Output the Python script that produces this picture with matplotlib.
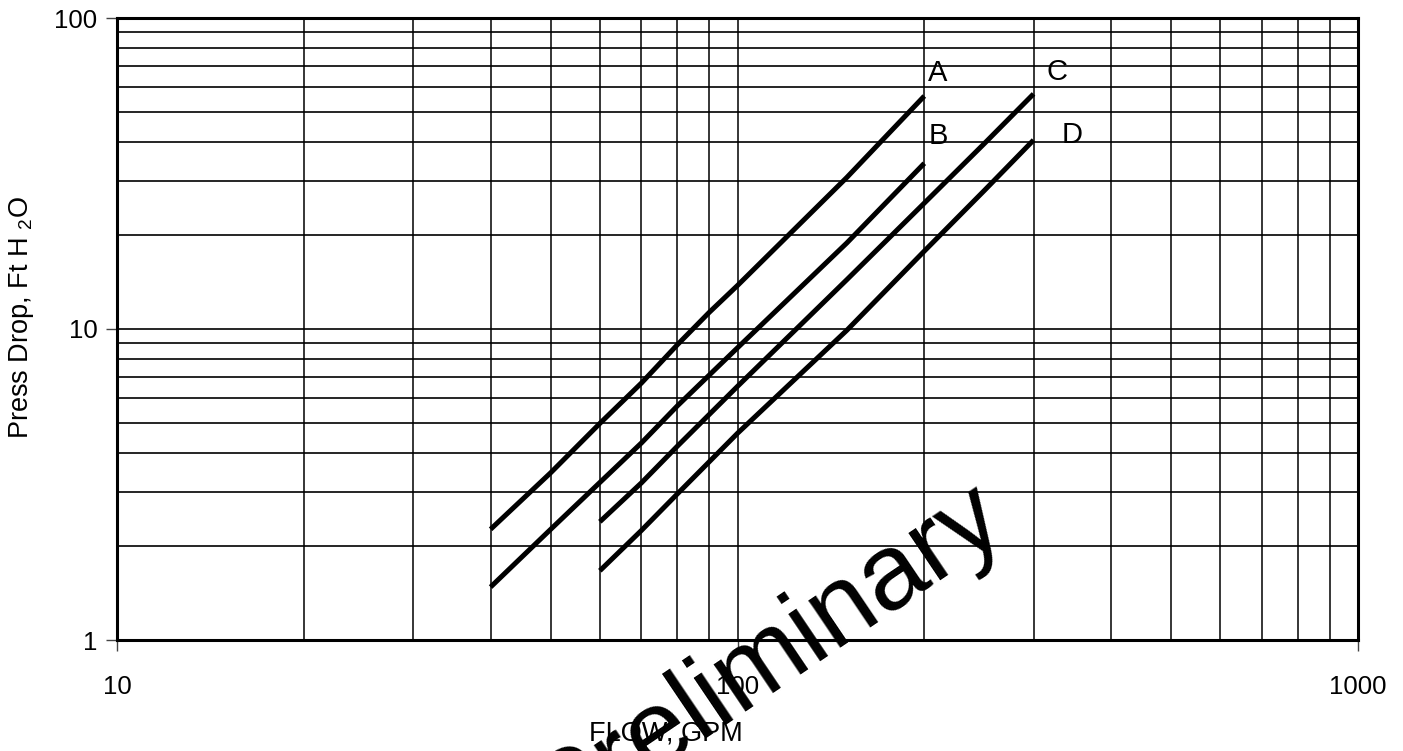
import matplotlib
matplotlib.use("Agg")
import matplotlib.pyplot as plt
from matplotlib.ticker import FixedLocator, FixedFormatter

plt.rcParams['font.family'] = ['Liberation Sans', 'DejaVu Sans']
plt.rcParams['mathtext.fontset'] = 'custom'
plt.rcParams['mathtext.rm'] = 'Liberation Sans'
plt.rcParams['mathtext.it'] = 'Liberation Sans'

# ---- data ----
flow_A = [40, 50, 60, 70, 80, 90, 100, 150, 200]
drop_A = [2.27, 3.45, 4.97, 6.7, 8.9, 11.3, 13.8, 30.7, 56.1]
flow_B = [40, 50, 60, 70, 80, 100, 150, 200]
drop_B = [1.48, 2.27, 3.21, 4.3, 5.66, 8.7, 18.9, 34.1]
flow_C = [60, 70, 80, 100, 150, 200, 250, 300]
drop_C = [2.40, 3.2, 4.2, 6.54, 14.4, 25.4, 39.5, 57.0]
flow_D = [60, 70, 80, 100, 150, 200, 250, 300]
drop_D = [1.67, 2.25, 2.95, 4.62, 9.9, 17.8, 27.9, 40.5]

curve_names = ['A', 'B', 'C', 'D']
label_pos_x = [203, 203, 315, 333]
label_pos_y = [66.5, 41.8, 67.0, 42.0]

x_ticks = [10, 100, 1000]
x_tick_labels = ['10', '100', '1000']
y_ticks = [1, 10, 100]
y_tick_labels = ['1', '10', '100']

fig = plt.figure(figsize=(14.03, 7.51), dpi=100)
ax = fig.add_axes([117/1403, 1-640/751, (1358-117)/1403, (640-18)/751])
ax.set_xscale('log')
ax.set_yscale('log')
ax.set_xlim(10, 1000)
ax.set_ylim(1, 100)

# grid lines at every decade subdivision
minor_x = [m * d for d in (10, 100) for m in range(2, 10)]
minor_y = [m * d for d in (1, 10) for m in range(2, 10)]
for v in minor_x + [100]:
    ax.axvline(v, color='black', lw=1.1, zorder=1)
for v in minor_y + [10]:
    ax.axhline(v, color='black', lw=1.2, zorder=1)

for fx, dy in [(flow_A, drop_A), (flow_B, drop_B), (flow_C, drop_C), (flow_D, drop_D)]:
    ax.plot(fx, dy, color='black', lw=3.6, solid_capstyle='butt', zorder=3)

for name, lx, ly in zip(curve_names, label_pos_x, label_pos_y):
    ax.text(lx, ly, name, fontsize=21, ha='left', va='center', zorder=4)

ax.xaxis.set_major_locator(FixedLocator(x_ticks))
ax.xaxis.set_major_formatter(FixedFormatter(x_tick_labels))
ax.yaxis.set_major_locator(FixedLocator(y_ticks))
ax.yaxis.set_major_formatter(FixedFormatter(y_tick_labels))
ax.xaxis.set_minor_locator(FixedLocator([]))
ax.yaxis.set_minor_locator(FixedLocator([]))
ax.tick_params(axis='both', which='major', direction='out', length=8, width=1.0,
               labelsize=18.5, color='#444444')
ax.tick_params(axis='x', pad=17)
ax.tick_params(axis='y', pad=6)
for s in ax.spines.values():
    s.set_linewidth(2.2)
    s.set_zorder(5)

fig.text(666/1403, 1-733/751, 'FLOW, GPM', fontsize=19.5, ha='center', va='center')
fig.text(22/1403, 1-318/751, 'Press Drop, Ft H $_{2}$O', fontsize=19.5,
         rotation=90, ha='center', va='center')

# watermark
fig.text(768/1403, 1-657/751, 'Preliminary', fontsize=78, rotation=34,
         ha='center', va='center', color='black', zorder=10)

fig.savefig('out.png', dpi=100)
